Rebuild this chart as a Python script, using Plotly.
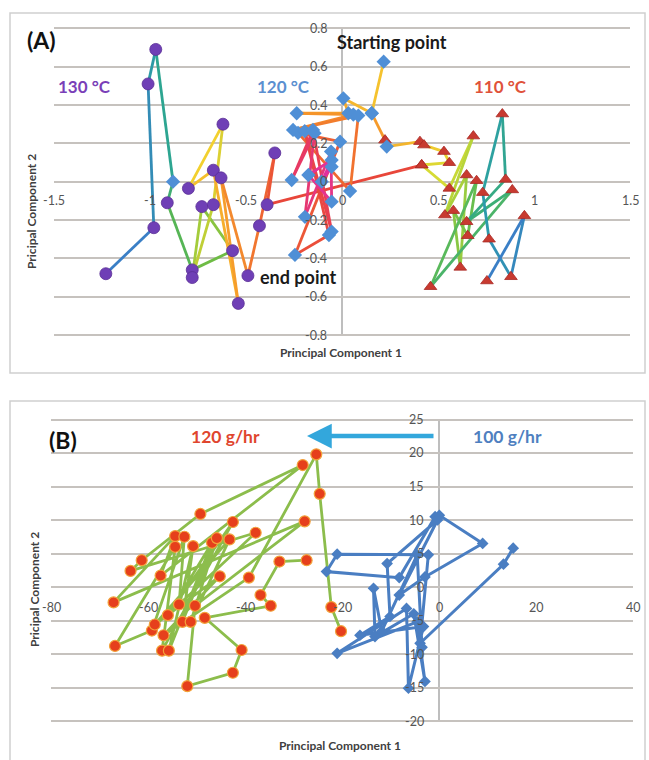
import plotly.graph_objects as go

W, H = 649, 760


def px(x):
    return x / W


def py(y):
    return 1 - y / H


# ---------------- Panel A data (PCA scores, ordered paths) ----------------
A130_X = [-1.23, -0.98, -1.01, -0.97, -0.88, -0.91, -0.78, -0.57, -0.73, -0.78, -0.67,
          -0.62, -0.80, -0.67, -0.54, -0.63, -0.49, -0.43, -0.35, -0.39, 0.415]
A130_Y = [-0.48, -0.24, 0.51, 0.69, 0.00, -0.11, -0.46, -0.36, -0.13, -0.50, -0.12,
          0.30, -0.035, 0.06, -0.635, 0.02, -0.49, -0.23, 0.15, -0.12, 0.087]
A130_KIND = ["130", "130", "130", "130", "120", "130", "130", "130", "130", "130", "130",
             "130", "130", "130", "130", "130", "130", "130", "130", "130", "110"]

A120_X = [0.217, 0.155, 0.007, 0.033, -0.236, 0.059, -0.255, 0.085, 0.042, -0.229, -0.01,
          -0.245, -0.068, -0.194, -0.054, -0.151, -0.262, -0.143, -0.193, -0.057, -0.054,
          -0.175, -0.054, -0.106, -0.054]
A120_Y = [0.626, 0.357, 0.435, 0.357, 0.357, 0.35, 0.27, 0.345, -0.049, 0.255, 0.209,
          -0.382, -0.278, 0.264, -0.26, 0.27, 0.009, 0.253, -0.183, 0.157, -0.104,
          0.035, 0.113, 0.0, 0.078]
A120_KIND = ["120"] * len(A120_X)

A110_X = [0.155, 0.224, 0.233, 0.406, 0.427, 0.531, 0.559, 0.415, 0.559, 0.684, 0.536,
          0.649, 0.616, 0.580, 0.655, 0.701, 0.461, 0.887, 0.649, 0.852, 0.835, 0.733,
          0.766, 0.880, 0.950, 0.755]
A110_Y = [0.357, 0.217, 0.183, 0.209, 0.191, 0.157, 0.099, 0.087, -0.035, 0.238, -0.174,
          0.035, -0.447, -0.151, -0.282, 0.005, -0.548, -0.043, -0.209, 0.012, 0.353, -0.057,
          -0.300, -0.496, -0.178, -0.518]
A110_KIND = ["120", "110", "120"] + ["110"] * (len(A110_X) - 3)

A_XTICKS = [-1.5, -1, -0.5, 0, 0.5, 1, 1.5]
A_XLABELS = ["-1.5", "-1", "-0.5", "0", "0.5", "1", "1.5"]
A_YTICKS = [-0.8, -0.6, -0.4, -0.2, 0, 0.2, 0.4, 0.6, 0.8]
A_YLABELS = ["-0.8", "-0.6", "-0.4", "-0.2", "0", "0.2", "0.4", "0.6", "0.8"]

# ---------------- Panel B data ----------------
B120_X = [-27.3, -32.9, -36.8, -34.7, -48.3, -40.7, -42.5, -51.9, -50.3, -27.7, -67.1,
          -54.4, -57.4, -28.1, -49.2, -61.3, -63.6, -37.8, -53.6, -52.5, -59.2, -66.8,
          -54.4, -57.1, -42.5, -55.9, -46.8, -55.7, -50.7, -52.9, -45.8, -51.2, -43.2,
          -58.6, -45.2, -56.8, -39.2, -25.3, -24.6, -22.2, -20.2]
B120_Y = [4.0, 3.8, -1.2, -2.8, -4.6, -9.4, -12.8, -14.8, -2.8, 9.8, -2.3,
          7.6, 1.7, 18.2, 10.9, 4.0, 2.4, 8.1, -2.6, 7.5, -6.5, -8.8,
          6.0, -9.5, 9.7, -4.2, 6.6, -9.5, 6.1, -5.2, 7.3, -5.2, 7.1,
          -5.6, 1.6, -7.2, 1.4, 19.8, 13.9, -3.0, -6.6]

B100_X = [15.3, 13.3, -3.9, -2.2, -21.0, -23.2, -8.2, -0.8, 0.07, 9.0, -2.9, -8.2, -0.3,
          -10.7, -10.1, -16.3, -3.2, -6.3, -6.7, -21.0, -4.5, -2.9, -5.2, -13.2, -13.5,
          -11.8, -4.5, -3.5]
B100_Y = [5.8, 3.4, -8.4, 4.8, 4.9, 2.3, 1.4, 10.5, 10.7, 6.5, 1.5, -1.2, 10.0,
          3.5, -4.4, -7.2, -5.9, -15.1, -3.2, -9.9, -5.2, -14.1, -4.0, -7.4, -0.2,
          -6.6, 4.8, -9.0]

B_XTICKS = [-80, -60, -40, -20, 0, 20, 40]
B_XLABELS = ["-80", "-60", "-40", "-20", "0", "20", "40"]
B_YTICKS = [-20, -15, -10, -5, 0, 5, 10, 15, 20, 25]
B_YLABELS = ["-20", "-15", "-10", "-5", "0", "5", "10", "15", "20", "25"]

# ---------------- styling ----------------
SCALE_130 = ["#3a7fc6", "#27a39a", "#5fb848", "#a8cd3a", "#f2d22e", "#f7a52b", "#f07030", "#e8463a"]
SCALE_120 = ["#f5c22e", "#f5962a", "#f06a30", "#ea4a3c", "#e83a5e", "#e4358a", "#e030a0"]
SCALE_110 = ["#f59a2a", "#f2c82e", "#d8dc34", "#a5cf3d", "#6cbf4a", "#3aae78", "#2a9ea8", "#3a7fc6"]

MARK = {
    "130": dict(symbol="circle", size=12, color="#6f3fb6", line=dict(width=0.8, color="#5a2e96")),
    "120": dict(symbol="diamond", size=11, color="#4f8fd6", line=dict(width=0)),
    "110": dict(symbol="triangle-up", size=11, color="#c83a30", line=dict(width=0.8, color="#a82a25")),
}

GRID = "#c6c2be"
AXIS = "#a9a9a9"
TICKFONT = dict(family="Lato, Open Sans, sans-serif", size=12.5, color="#555555")
BOLD = "Lato, Open Sans, sans-serif"


def hex2rgb(h):
    h = h.lstrip("#")
    return tuple(int(h[i:i + 2], 16) for i in (0, 2, 4))


def interp(scale, t):
    t = min(max(t, 0.0), 1.0)
    pos = t * (len(scale) - 1)
    i = min(int(pos), len(scale) - 2)
    f = pos - i
    a, b = hex2rgb(scale[i]), hex2rgb(scale[i + 1])
    c = [round(a[k] + (b[k] - a[k]) * f) for k in range(3)]
    return "rgb(%d,%d,%d)" % tuple(c)


fig = go.Figure()


def add_gradient_path(xs, ys, scale, xa, ya, width=2.8):
    n = len(xs)
    for i in range(n - 1):
        t = i / max(n - 2, 1)
        fig.add_trace(go.Scatter(x=[xs[i], xs[i + 1]], y=[ys[i], ys[i + 1]], mode="lines",
                                 line=dict(color=interp(scale, t), width=width),
                                 xaxis=xa, yaxis=ya, hoverinfo="skip"))


add_gradient_path(A110_X, A110_Y, SCALE_110, "x", "y")
add_gradient_path(A130_X, A130_Y, SCALE_130, "x", "y")
add_gradient_path(A120_X, A120_Y, SCALE_120, "x", "y")

# markers grouped by kind
pts = {"110": ([], []), "120": ([], []), "130": ([], [])}
for xs, ys, ks in [(A110_X, A110_Y, A110_KIND), (A120_X, A120_Y, A120_KIND), (A130_X, A130_Y, A130_KIND)]:
    for x, y, k in zip(xs, ys, ks):
        pts[k][0].append(x)
        pts[k][1].append(y)
for k in ["110", "120", "130"]:
    fig.add_trace(go.Scatter(x=pts[k][0], y=pts[k][1], mode="markers", marker=MARK[k],
                             xaxis="x", yaxis="y", name=k + " °C"))

# Panel B
fig.add_trace(go.Scatter(x=B120_X, y=B120_Y, mode="lines+markers",
                         line=dict(color="#8cbd4c", width=2.8),
                         marker=dict(symbol="circle", size=11, color="#e63f1c",
                                     line=dict(width=1.2, color="#f2a23a")),
                         xaxis="x2", yaxis="y2", name="120 g/hr"))
fig.add_trace(go.Scatter(x=B100_X, y=B100_Y, mode="lines+markers",
                         line=dict(color="#4a7ec2", width=3),
                         marker=dict(symbol="diamond", size=9, color="#4a7ec2"),
                         xaxis="x2", yaxis="y2", name="100 g/hr"))

# ---------------- axes ----------------
# Panel A: x=0 at px 342, 192 px/unit ; y=0 at py 181.7, 191.7 px/unit
A_YR = [-0.83, 0.83]
a_top = 181.7 - A_YR[1] * 191.7
a_bot = 181.7 - A_YR[0] * 191.7
B_YR = [-20.6, 25.6]
b_top = 587 - B_YR[1] * 6.7
b_bot = 587 - B_YR[0] * 6.7

common_x = dict(showgrid=False, zeroline=False, showticklabels=False, ticks="", showline=False)
common_y = dict(showgrid=True, gridcolor=GRID, gridwidth=1.8, zeroline=False,
                showticklabels=False, ticks="", showline=False, tickmode="array")

fig.update_layout(
    width=W, height=H, margin=dict(l=0, r=0, t=0, b=0),
    paper_bgcolor="white", plot_bgcolor="rgba(0,0,0,0)", showlegend=False,
    xaxis=dict(domain=[px(54), px(630)], range=[-1.5, 1.5], anchor="y", **common_x),
    yaxis=dict(domain=[py(a_bot), py(a_top)], range=A_YR, anchor="x", tickvals=A_YTICKS, **common_y),
    xaxis2=dict(domain=[px(439 - 80 * 4.85), px(439 + 40 * 4.85)], range=[-80, 40], anchor="y2", **common_x),
    yaxis2=dict(domain=[py(b_bot), py(b_top)], range=B_YR, anchor="x2", tickvals=B_YTICKS, **common_y),
)

shapes = [
    # panel borders
    dict(type="rect", xref="paper", yref="paper", x0=px(10), x1=px(645), y0=py(373), y1=py(13),
         line=dict(color="#cfcfcf", width=1.5), fillcolor="rgba(0,0,0,0)", layer="below"),
    dict(type="rect", xref="paper", yref="paper", x0=px(10), x1=px(645), y0=py(762), y1=py(401),
         line=dict(color="#cfcfcf", width=1.5), fillcolor="rgba(0,0,0,0)", layer="below"),
    # vertical axes at x = 0
    dict(type="line", xref="x", yref="y", x0=0, x1=0, y0=A_YTICKS[0], y1=A_YTICKS[-1],
         line=dict(color=AXIS, width=1.5), layer="below"),
    dict(type="line", xref="x2", yref="y2", x0=0, x1=0, y0=B_YTICKS[0], y1=B_YTICKS[-1],
         line=dict(color=AXIS, width=1.5), layer="below"),
]

ann = []
for v, t in zip(A_XTICKS, A_XLABELS):
    ann.append(dict(x=v, y=0, xref="x", yref="y", text=t, showarrow=False, yshift=-19,
                    font=TICKFONT, xanchor="center", yanchor="middle"))
for v, t in zip(A_YTICKS, A_YLABELS):
    ann.append(dict(x=0, y=v, xref="x", yref="y", text=t, showarrow=False, xshift=-13,
                    font=TICKFONT, xanchor="right", yanchor="middle"))
for v, t in zip(B_XTICKS, B_XLABELS):
    ann.append(dict(x=v, y=0, xref="x2", yref="y2", text=t, showarrow=False, yshift=-20,
                    font=TICKFONT, xanchor="center", yanchor="middle"))
for v, t in zip(B_YTICKS, B_YLABELS):
    ann.append(dict(x=0, y=v, xref="x2", yref="y2", text=t, showarrow=False, xshift=-13,
                    font=TICKFONT, xanchor="right", yanchor="middle"))


def label(x, y, text, size, color, **kw):
    d = dict(x=px(x), y=py(y), xref="paper", yref="paper", text="<b>%s</b>" % text,
             showarrow=False, font=dict(family=BOLD, size=size, color=color),
             xanchor="center", yanchor="middle")
    d.update(kw)
    ann.append(d)


label(41, 40, "(A)", 23, "#111111")
label(392, 42, "Starting point", 18, "#1a1a1a")
label(84, 87, "130 °C", 17, "#7a3fb8")
label(283, 87, "120 °C", 17, "#5b8fd0")
label(500, 87, "110 °C", 17, "#e0523a")
label(298, 277, "end point", 18, "#1a1a1a")
label(341, 352, "Principal Component 1", 12, "#404040")
label(32, 212, "Pricipal Component 2", 12, "#404040", textangle=-90)

label(63, 440, "(B)", 23, "#111111")
label(225, 436, "120 g/hr", 17.5, "#e0452e")
label(507, 436, "100 g/hr", 17.5, "#4f7fc0")
label(340, 745, "Principal Component 1", 12, "#404040")
label(34, 590, "Pricipal Component 2", 12, "#404040", textangle=-90)

# arrow 100 g/hr -> 120 g/hr
ann.append(dict(x=px(307), y=py(436), ax=435 - 307, ay=0, xref="paper", yref="paper",
                axref="pixel", ayref="pixel", text="", showarrow=True, arrowhead=2,
                arrowsize=1.1, arrowwidth=4.5, arrowcolor="#33a7dc"))

fig.update_layout(shapes=shapes, annotations=ann)
fig.write_html("out.html")
